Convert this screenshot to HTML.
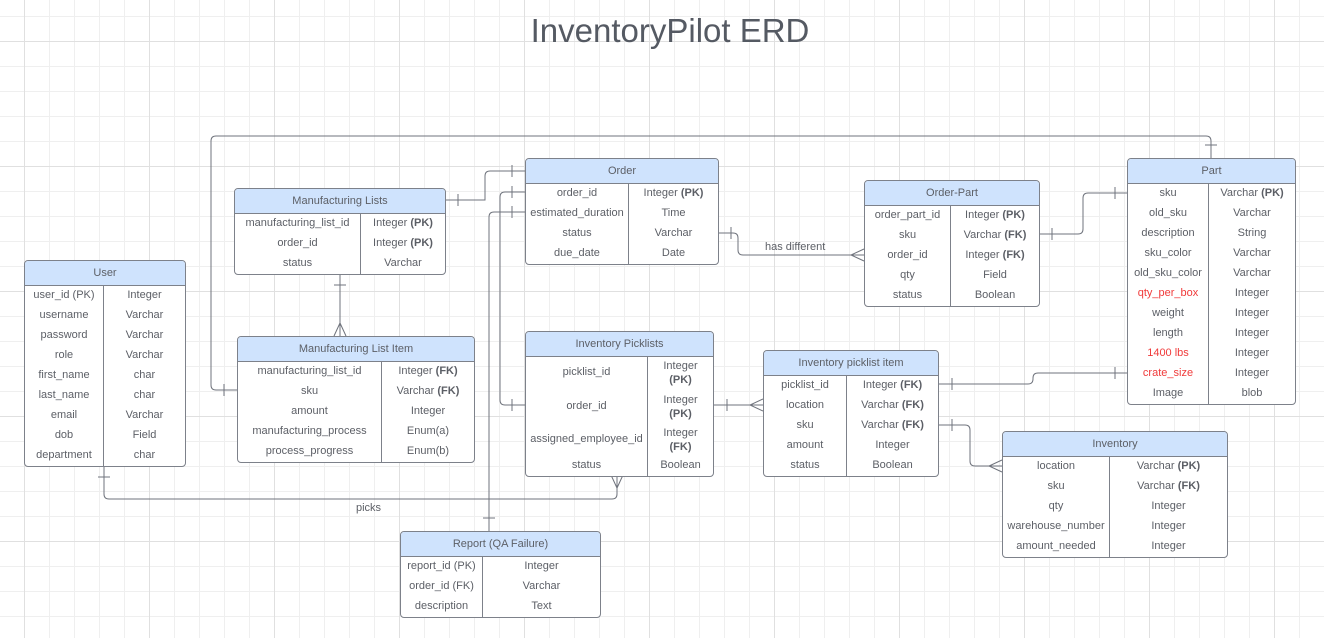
<!DOCTYPE html>
<html><head><meta charset="utf-8"><style>
*{box-sizing:border-box}
body{margin:0;width:1324px;height:638px;overflow:hidden;background:#fff;font-family:"Liberation Sans",sans-serif;position:relative}
.g{position:absolute;left:0;top:0;width:1324px;height:638px}
.title{position:absolute;left:0;width:1340px;top:12px;text-align:center;font-size:33px;color:#555a63}
.t{position:absolute;border:1px solid #7d818a;border-radius:4px;background:#fff;overflow:hidden;color:#5c5f66;font-size:11px}
.h{height:25px;line-height:24px;background:#cfe3fd;border-bottom:1px solid #7d818a;text-align:center}
.r{display:flex;height:20px;line-height:19px}
.r div{text-align:center;white-space:nowrap}
.r div+div{border-left:1px solid #7d818a;flex:1}
.red{color:#f03a3a}
b{font-weight:bold;color:#5c5f66}
.lbl{position:absolute;font-size:11px;color:#5c5f66}
</style></head><body>
<svg class="g" width="1324" height="638">
<defs>
<pattern id="p" x="24" y="16" width="25" height="25" patternUnits="userSpaceOnUse"><path d="M0.5 0V25M0 0.5H25" stroke="#efefef" stroke-width="1" fill="none"/></pattern>
<pattern id="q" x="24" y="41" width="125" height="125" patternUnits="userSpaceOnUse"><path d="M0.5 0V125M0 0.5H125" stroke="#e0e0e0" stroke-width="1" fill="none"/></pattern>
</defs>
<rect width="1324" height="638" fill="url(#p)"/>
<rect width="1324" height="638" fill="url(#q)"/>
<g stroke="#6f737c" stroke-width="1" fill="none">
<path d="M237 390H216Q211 390 211 385V141Q211 136 216 136H1206Q1211 136 1211 141V158"/>
<path d="M224 384V396M1205 145H1217"/>
<path d="M445 200H485V176Q485 171 490 171H525"/>
<path d="M458 194V206M512 165V177"/>
<path d="M340 272V336M334 285H346M334 336L340 323L346 336"/>
<path d="M525 192H505Q500 192 500 197V400Q500 405 505 405H525"/>
<path d="M512 186V198M512 399V411"/>
<path d="M525 212H494Q489 212 489 217V531"/>
<path d="M512 206V218M483 518H495"/>
<path d="M718 233H733Q738 233 738 238V250Q738 255 743 255H864"/>
<path d="M731 227V239M864 249L851 255L864 261"/>
<path d="M1040 234H1078Q1083 234 1083 229V198Q1083 193 1088 193H1127"/>
<path d="M1052 228V240M1115 187V199"/>
<path d="M713 405H763M727 399V411M763 399L750 405L763 411"/>
<path d="M939 384H1028Q1033 384 1033 379V378Q1033 373 1038 373H1127"/>
<path d="M952 378V390M1115 367V379"/>
<path d="M939 425H965Q970 425 970 430V461Q970 466 975 466H1002"/>
<path d="M952 419V431M1002 460L989 466L1002 472"/>
<path d="M104 464V494Q104 499 109 499H612Q617 499 617 494V475"/>
<path d="M98 477H110M611 475L617 488L623 475"/>
</g>
</svg>
<div class="title">InventoryPilot ERD</div>
<div class="lbl" style="left:765px;top:241px">has different</div>
<div class="lbl" style="left:356px;top:502px">picks</div>

<div class="t" style="left:24px;top:260px;width:162px">
<div class="h">User</div>
<div class="r"><div style="width:78px">user_id (PK)</div><div>Integer</div></div>
<div class="r"><div style="width:78px">username</div><div>Varchar</div></div>
<div class="r"><div style="width:78px">password</div><div>Varchar</div></div>
<div class="r"><div style="width:78px">role</div><div>Varchar</div></div>
<div class="r"><div style="width:78px">first_name</div><div>char</div></div>
<div class="r"><div style="width:78px">last_name</div><div>char</div></div>
<div class="r"><div style="width:78px">email</div><div>Varchar</div></div>
<div class="r"><div style="width:78px">dob</div><div>Field</div></div>
<div class="r"><div style="width:78px">department</div><div>char</div></div>
</div>

<div class="t" style="left:234px;top:188px;width:212px">
<div class="h">Manufacturing Lists</div>
<div class="r"><div style="width:125px">manufacturing_list_id</div><div>Integer <b>(PK)</b></div></div>
<div class="r"><div style="width:125px">order_id</div><div>Integer <b>(PK)</b></div></div>
<div class="r"><div style="width:125px">status</div><div>Varchar</div></div>
</div>

<div class="t" style="left:237px;top:336px;width:238px">
<div class="h">Manufacturing List Item</div>
<div class="r"><div style="width:143px">manufacturing_list_id</div><div>Integer <b>(FK)</b></div></div>
<div class="r"><div style="width:143px">sku</div><div>Varchar <b>(FK)</b></div></div>
<div class="r"><div style="width:143px">amount</div><div>Integer</div></div>
<div class="r"><div style="width:143px">manufacturing_process</div><div>Enum(a)</div></div>
<div class="r"><div style="width:143px">process_progress</div><div>Enum(b)</div></div>
</div>

<div class="t" style="left:525px;top:158px;width:194px">
<div class="h">Order</div>
<div class="r"><div style="width:102px">order_id</div><div>Integer <b>(PK)</b></div></div>
<div class="r"><div style="width:102px">estimated_duration</div><div>Time</div></div>
<div class="r"><div style="width:102px">status</div><div>Varchar</div></div>
<div class="r"><div style="width:102px">due_date</div><div>Date</div></div>
</div>

<div class="t" style="left:864px;top:180px;width:176px">
<div class="h">Order-Part</div>
<div class="r"><div style="width:85px">order_part_id</div><div>Integer <b>(PK)</b></div></div>
<div class="r"><div style="width:85px">sku</div><div>Varchar <b>(FK)</b></div></div>
<div class="r"><div style="width:85px">order_id</div><div>Integer <b>(FK)</b></div></div>
<div class="r"><div style="width:85px">qty</div><div>Field</div></div>
<div class="r"><div style="width:85px">status</div><div>Boolean</div></div>
</div>

<div class="t" style="left:1127px;top:158px;width:169px">
<div class="h">Part</div>
<div class="r"><div style="width:80px">sku</div><div>Varchar <b>(PK)</b></div></div>
<div class="r"><div style="width:80px">old_sku</div><div>Varchar</div></div>
<div class="r"><div style="width:80px">description</div><div>String</div></div>
<div class="r"><div style="width:80px">sku_color</div><div>Varchar</div></div>
<div class="r"><div style="width:80px">old_sku_color</div><div>Varchar</div></div>
<div class="r"><div style="width:80px" class="red">qty_per_box</div><div>Integer</div></div>
<div class="r"><div style="width:80px">weight</div><div>Integer</div></div>
<div class="r"><div style="width:80px">length</div><div>Integer</div></div>
<div class="r"><div style="width:80px" class="red">1400 lbs</div><div>Integer</div></div>
<div class="r"><div style="width:80px" class="red">crate_size</div><div>Integer</div></div>
<div class="r"><div style="width:80px">Image</div><div>blob</div></div>
</div>

<div class="t" style="left:525px;top:331px;width:189px">
<div class="h">Inventory Picklists</div>
<div class="r" style="height:33px;line-height:14px"><div style="width:121px;line-height:30px">picklist_id</div><div style="padding-top:2px">Integer<br><b>(PK)</b></div></div>
<div class="r" style="height:33px;line-height:14px"><div style="width:121px;line-height:33px">order_id</div><div style="padding-top:3px">Integer<br><b>(PK)</b></div></div>
<div class="r" style="height:33px;line-height:14px"><div style="width:121px;line-height:33px">assigned_employee_id</div><div style="padding-top:3px">Integer<br><b>(FK)</b></div></div>
<div class="r"><div style="width:121px">status</div><div>Boolean</div></div>
</div>

<div class="t" style="left:763px;top:350px;width:176px">
<div class="h">Inventory picklist item</div>
<div class="r"><div style="width:82px">picklist_id</div><div>Integer <b>(FK)</b></div></div>
<div class="r"><div style="width:82px">location</div><div>Varchar <b>(FK)</b></div></div>
<div class="r"><div style="width:82px">sku</div><div>Varchar <b>(FK)</b></div></div>
<div class="r"><div style="width:82px">amount</div><div>Integer</div></div>
<div class="r"><div style="width:82px">status</div><div>Boolean</div></div>
</div>

<div class="t" style="left:1002px;top:431px;width:226px">
<div class="h">Inventory</div>
<div class="r"><div style="width:106px">location</div><div>Varchar <b>(PK)</b></div></div>
<div class="r"><div style="width:106px">sku</div><div>Varchar <b>(FK)</b></div></div>
<div class="r"><div style="width:106px">qty</div><div>Integer</div></div>
<div class="r"><div style="width:106px">warehouse_number</div><div>Integer</div></div>
<div class="r"><div style="width:106px">amount_needed</div><div>Integer</div></div>
</div>

<div class="t" style="left:400px;top:531px;width:201px">
<div class="h">Report (QA Failure)</div>
<div class="r"><div style="width:81px">report_id (PK)</div><div>Integer</div></div>
<div class="r"><div style="width:81px">order_id (FK)</div><div>Varchar</div></div>
<div class="r"><div style="width:81px">description</div><div>Text</div></div>
</div>
</body></html>
